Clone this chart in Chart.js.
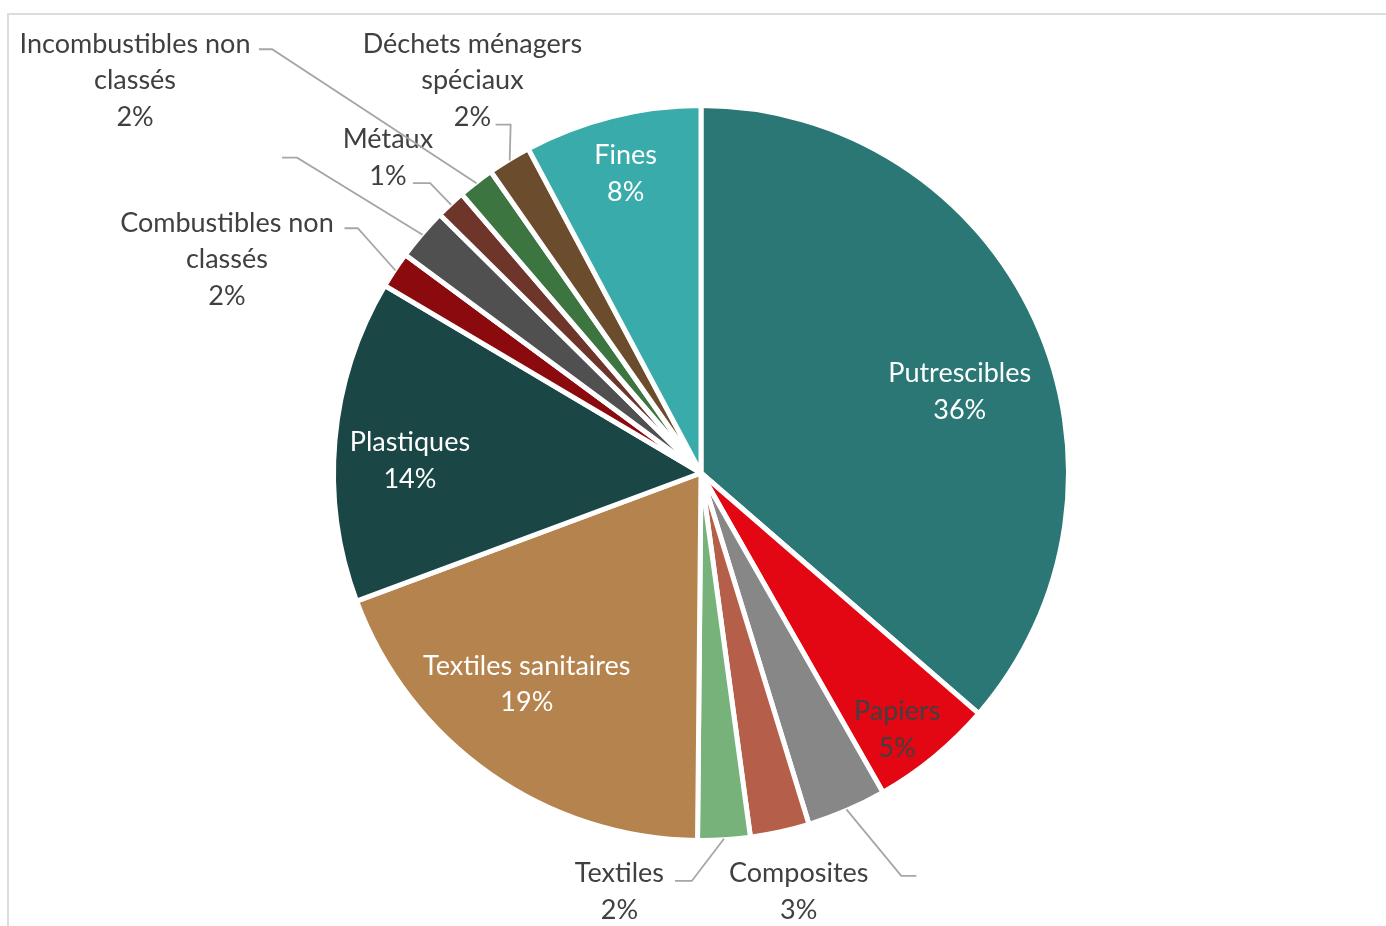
<!DOCTYPE html>
<html>
<head>
<meta charset="utf-8">
<script src="https://cdn.jsdelivr.net/npm/chart.js@4/dist/chart.umd.min.js"></script>
<style>
  html, body { margin: 0; padding: 0; background: #fff; }
  #frame {
    position: absolute; left: 7px; top: 13px; width: 1400px; height: 940px;
    border-top: 2px solid #dcdcdc; border-left: 2px solid #dcdcdc;
  }
  #chart { position: absolute; left: 0; top: 0; }
</style>
</head>
<body>
<div id="frame"></div>
<canvas id="chart" width="1386" height="926"></canvas>
<script>
// slices, clockwise from 12 o'clock
const categories = [
  'Putrescibles', 'Papiers', 'Cartons', 'Composites', 'Textiles',
  'Textiles sanitaires', 'Plastiques', 'Combustibles non classés', 'Verres',
  'Métaux', 'Incombustibles non classés', 'Déchets ménagers spéciaux', 'Fines'
];
const shares = [36.4, 5.4, 3.5, 2.6, 2.3, 19.2, 14.2, 1.6, 2.3, 1.3, 1.6, 1.9, 7.8];

// text shown on the chart (null = no text, only a leader line)
const labelLines = [
  ['Putrescibles'], ['Papiers'], null, ['Composites'], ['Textiles'],
  ['Textiles sanitaires'], ['Plastiques'], ['Combustibles non', 'classés'], null,
  ['Métaux'], ['Incombustibles non', 'classés'], ['Déchets ménagers', 'spéciaux'], ['Fines']
];

const colors = [
  '#2A7775', '#E30613', '#878787', '#B55E4A', '#76B27A',
  '#B5834E', '#1B4646', '#8A0A0E', '#505050',
  '#6E352B', '#3C7540', '#6B4C2C', '#3AABAB'
];

// label layout, in units of the pie radius relative to its centre
const labelPos = [
  [0.704, -0.227], [0.534, 0.693], null, [0.266, 1.134], [-0.222, 1.134],
  [-0.474, 0.570], [-0.792, -0.038], [-1.290, -0.586], null,
  [-0.852, -0.863], [-1.540, -1.074], [-0.622, -1.074], [-0.205, -0.819]
];
const labelColor = ['#fff', '#404040', '#404040', '#404040', '#404040',
  '#fff', '#fff', '#404040', '#404040', '#404040', '#404040', '#404040', '#fff'];
// leader lines: bend point then end point
const leaders = [
  null, null, [[0.545, 1.096], [0.586, 1.096]], null, [[-0.025, 1.110], [-0.071, 1.110]],
  null, null, [[-0.934, -0.666], [-0.970, -0.666]], [[-1.099, -0.858], [-1.140, -0.858]],
  [[-0.737, -0.789], [-0.784, -0.789]], [[-1.167, -1.153], [-1.203, -1.153]],
  [[-0.518, -0.948], [-0.559, -0.948]], null
];

const FONT = '27px Lato';
const LINE_H = 36.5;

const pieLabels = {
  id: 'pieLabels',
  afterDatasetsDraw(chart) {
    const ctx = chart.ctx;
    const meta = chart.getDatasetMeta(0);
    const total = shares.reduce((a, b) => a + b, 0);
    ctx.save();
    meta.data.forEach((arc, i) => {
      const R = arc.outerRadius;
      const cx = arc.x, cy = arc.y;
      const mid = (arc.startAngle + arc.endAngle) / 2;
      if (leaders[i]) {
        ctx.strokeStyle = '#a6a6a6';
        ctx.lineWidth = 1.8;
        ctx.beginPath();
        ctx.moveTo(cx + Math.cos(mid) * (R - 1), cy + Math.sin(mid) * (R - 1));
        leaders[i].forEach(p => ctx.lineTo(cx + p[0] * R, cy + p[1] * R));
        ctx.stroke();
      }
      if (!labelLines[i]) return;
      const lines = labelLines[i].concat([Math.round(shares[i] / total * 100) + '%']);
      const lx = cx + labelPos[i][0] * R;
      const ly = cy + labelPos[i][1] * R + 2;
      ctx.font = FONT;
      ctx.fillStyle = labelColor[i];
      ctx.textAlign = 'center';
      ctx.textBaseline = 'middle';
      lines.forEach((t, k) => {
        ctx.fillText(t, lx, ly + (k - (lines.length - 1) / 2) * LINE_H);
      });
    });
    ctx.restore();
  }
};

new Chart(document.getElementById('chart'), {
  type: 'pie',
  data: {
    labels: categories,
    datasets: [{
      data: shares,
      backgroundColor: colors,
      borderColor: '#fff',
      borderWidth: 5
    }]
  },
  options: {
    responsive: false,
    animation: false,
    radius: 367.5,
    layout: { padding: { left: 16, top: 20 } },
    plugins: { legend: { display: false }, tooltip: { enabled: false } }
  },
  plugins: [pieLabels]
});
</script>
</body>
</html>
